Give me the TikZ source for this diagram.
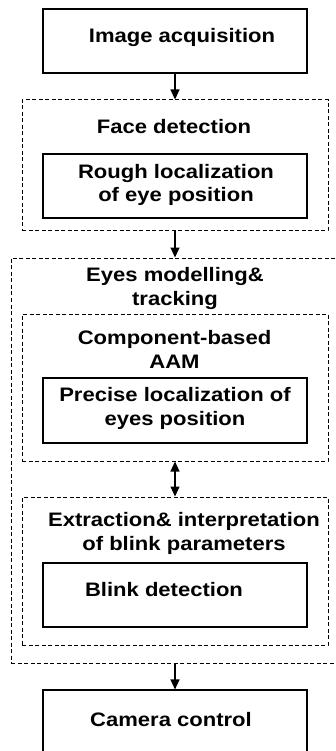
\documentclass[tikz,border=0pt]{standalone}
\usepackage{fontspec}
\setmainfont{Liberation Sans}[FakeStretch=1.13]
\usetikzlibrary{arrows.meta}
\begin{document}
\begin{tikzpicture}[x=1pt,y=-1pt,
  solidbox/.style={draw=black, line width=1.1pt, rectangle, inner sep=0pt},
  dashbox/.style={draw=black, line width=1pt, dash pattern=on 4pt off 2.5pt, rectangle, inner sep=0pt},
  txt/.style={font=\fontsize{19.5}{23.5}\selectfont\bfseries, align=center, inner sep=0pt, text=black},
  arr/.style={draw=black, line width=1.1pt, -{Triangle[width=9pt,length=10pt]}},
  darr/.style={draw=black, line width=1.1pt, {Triangle[width=9pt,length=10pt]}-{Triangle[width=9pt,length=10pt]}}]
\useasboundingbox (0,0) rectangle (336,751);
\clip (0,0) rectangle (336,751);
\fill[white] (0,0) rectangle (336,751);
% boxes
\node[solidbox, minimum width=264pt, minimum height=64pt] (acq) at (175,41) {};
\node[txt] (acqt) at (182,38) {Image acquisition};
\node[dashbox, minimum width=306pt, minimum height=130pt] (face) at (175,165) {};
\node[txt] (facet) at (174,127) {Face detection};
\node[solidbox, minimum width=264pt, minimum height=64pt] (rough) at (175,186) {};
\node[txt] (rought) at (176,185) {Rough localization\\of eye position};
\node[dashbox, minimum width=330pt, minimum height=405pt] (eyes) at (176,460.5) {};
\node[txt] (eyest) at (175,288.5) {Eyes modelling\&\\tracking};
\node[dashbox, minimum width=306pt, minimum height=147pt] (aam) at (175,387.5) {};
\node[txt] (aamt) at (174.5,349.5) {Component-based\\AAM};
\node[solidbox, minimum width=264pt, minimum height=65pt] (prec) at (175,410.5) {};
\node[txt] (prect) at (175,408.5) {Precise localization of\\eyes position};
\node[dashbox, minimum width=306pt, minimum height=148pt] (extr) at (175,571) {};
\node[txt] (extrt) at (184,533.5) {Extraction\& interpretation\\of blink parameters};
\node[solidbox, minimum width=264pt, minimum height=64pt] (blink) at (175,595) {};
\node[txt] (blinkt) at (164,590) {Blink detection};
\node[solidbox, minimum width=264pt, minimum height=80pt] (cam) at (175,730) {};
\node[txt] (camt) at (171,720) {Camera control};
% connectors
\draw[arr] (acq.south) -- (face.north);
\draw[arr] (face.south) -- (eyes.north -| face.south);
\draw[darr] (aam.south) -- (extr.north);
\draw[arr] (eyes.south -| cam.north) -- (cam.north);
\end{tikzpicture}
\end{document}
